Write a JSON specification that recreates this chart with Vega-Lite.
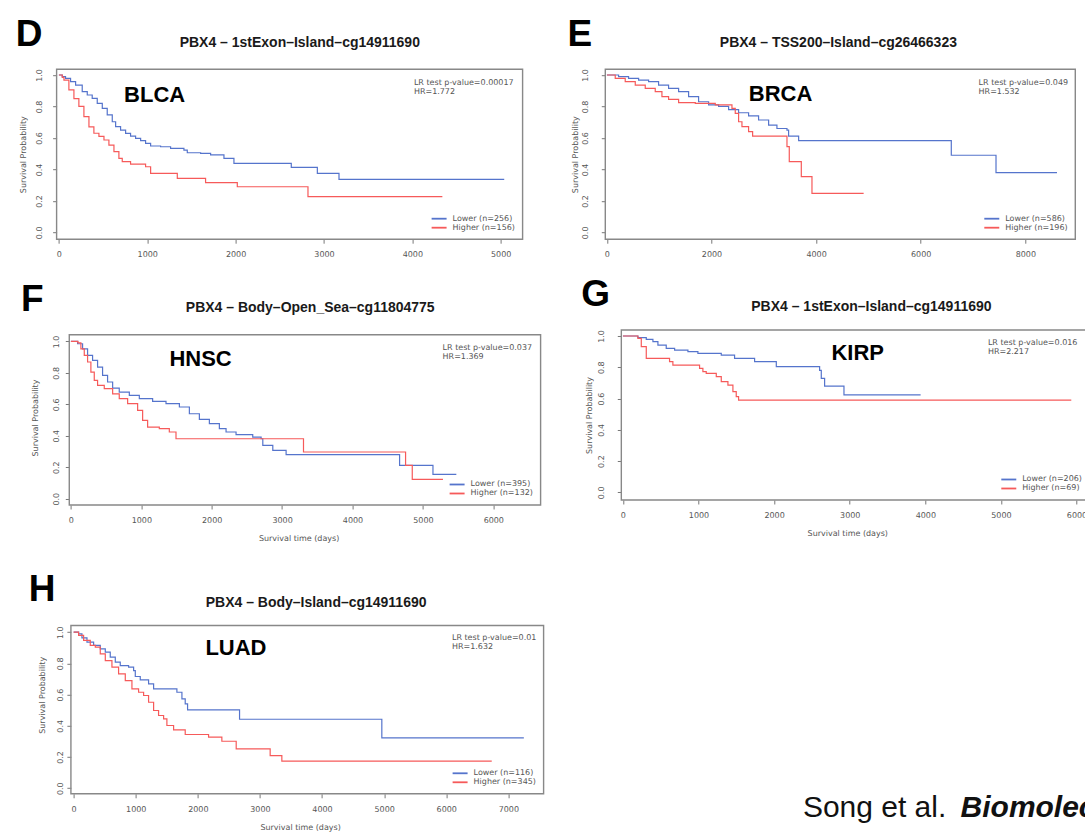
{
  "$schema": "https://vega.github.io/schema/vega-lite/v6.json",
  "background": "white",
  "padding": {"left": 14.6, "top": 15.2, "right": -11, "bottom": 0},
  "autosize": {"type": "pad"},
  "bounds": "flush",
  "columns": 2,
  "align": "each",
  "spacing": {"row": 90.8, "column": 61.7},
  "resolve": {"scale": {"color": "independent"}, "legend": {"color": "independent"}},
  "config": {
    "view": {"stroke": null},
    "axis": {"domain": false, "grid": false, "labelFont": "DejaVu Sans", "labelFontSize": 8, "labelColor": "#555555", "tickColor": "#777777", "tickSize": 4, "tickWidth": 1, "titleFont": "DejaVu Sans", "titleFontSize": 8, "titleFontWeight": "normal", "titleColor": "#555555"},
    "legend": {"orient": "bottom-right", "offset": 7, "padding": 0, "labelFont": "DejaVu Sans", "labelFontSize": 8, "labelColor": "#555555", "labelOffset": 9, "rowPadding": 0},
    "text": {"font": "DejaVu Sans"}
  },
  "datasets": {
    "D": [
      {"g": "Lower (n=256)", "t": 0, "s": 1}, {"g": "Lower (n=256)", "t": 38, "s": 0.99}, {"g": "Lower (n=256)", "t": 75, "s": 0.979}, {"g": "Lower (n=256)", "t": 132, "s": 0.958}, {"g": "Lower (n=256)", "t": 189, "s": 0.936}, {"g": "Lower (n=256)", "t": 264, "s": 0.894}, {"g": "Lower (n=256)", "t": 321, "s": 0.873}, {"g": "Lower (n=256)", "t": 377, "s": 0.852}, {"g": "Lower (n=256)", "t": 434, "s": 0.82}, {"g": "Lower (n=256)", "t": 491, "s": 0.788}, {"g": "Lower (n=256)", "t": 547, "s": 0.746}, {"g": "Lower (n=256)", "t": 604, "s": 0.703}, {"g": "Lower (n=256)", "t": 642, "s": 0.672}, {"g": "Lower (n=256)", "t": 698, "s": 0.65}, {"g": "Lower (n=256)", "t": 755, "s": 0.629}, {"g": "Lower (n=256)", "t": 811, "s": 0.612}, {"g": "Lower (n=256)", "t": 868, "s": 0.597}, {"g": "Lower (n=256)", "t": 925, "s": 0.583}, {"g": "Lower (n=256)", "t": 981, "s": 0.566}, {"g": "Lower (n=256)", "t": 1038, "s": 0.549}, {"g": "Lower (n=256)", "t": 1151, "s": 0.544}, {"g": "Lower (n=256)", "t": 1264, "s": 0.534}, {"g": "Lower (n=256)", "t": 1415, "s": 0.523}, {"g": "Lower (n=256)", "t": 1453, "s": 0.506}, {"g": "Lower (n=256)", "t": 1604, "s": 0.502}, {"g": "Lower (n=256)", "t": 1717, "s": 0.492}, {"g": "Lower (n=256)", "t": 1868, "s": 0.47}, {"g": "Lower (n=256)", "t": 1981, "s": 0.439}, {"g": "Lower (n=256)", "t": 2630, "s": 0.413}, {"g": "Lower (n=256)", "t": 2925, "s": 0.375}, {"g": "Lower (n=256)", "t": 3170, "s": 0.337}, {"g": "Lower (n=256)", "t": 5040, "s": 0.337},
      {"g": "Higher (n=156)", "t": 0, "s": 1}, {"g": "Higher (n=156)", "t": 38, "s": 0.985}, {"g": "Higher (n=156)", "t": 57, "s": 0.968}, {"g": "Higher (n=156)", "t": 113, "s": 0.905}, {"g": "Higher (n=156)", "t": 170, "s": 0.85}, {"g": "Higher (n=156)", "t": 226, "s": 0.8}, {"g": "Higher (n=156)", "t": 283, "s": 0.735}, {"g": "Higher (n=156)", "t": 340, "s": 0.67}, {"g": "Higher (n=156)", "t": 396, "s": 0.63}, {"g": "Higher (n=156)", "t": 453, "s": 0.61}, {"g": "Higher (n=156)", "t": 510, "s": 0.587}, {"g": "Higher (n=156)", "t": 566, "s": 0.555}, {"g": "Higher (n=156)", "t": 623, "s": 0.513}, {"g": "Higher (n=156)", "t": 679, "s": 0.47}, {"g": "Higher (n=156)", "t": 717, "s": 0.45}, {"g": "Higher (n=156)", "t": 811, "s": 0.434}, {"g": "Higher (n=156)", "t": 981, "s": 0.417}, {"g": "Higher (n=156)", "t": 1038, "s": 0.375}, {"g": "Higher (n=156)", "t": 1340, "s": 0.343}, {"g": "Higher (n=156)", "t": 1660, "s": 0.316}, {"g": "Higher (n=156)", "t": 2019, "s": 0.29}, {"g": "Higher (n=156)", "t": 2819, "s": 0.227}, {"g": "Higher (n=156)", "t": 4340, "s": 0.227}
    ],
    "E": [
      {"g": "Lower (n=586)", "t": 0, "s": 1}, {"g": "Lower (n=586)", "t": 223, "s": 0.99}, {"g": "Lower (n=586)", "t": 414, "s": 0.979}, {"g": "Lower (n=586)", "t": 606, "s": 0.968}, {"g": "Lower (n=586)", "t": 797, "s": 0.958}, {"g": "Lower (n=586)", "t": 988, "s": 0.936}, {"g": "Lower (n=586)", "t": 1179, "s": 0.915}, {"g": "Lower (n=586)", "t": 1371, "s": 0.894}, {"g": "Lower (n=586)", "t": 1562, "s": 0.862}, {"g": "Lower (n=586)", "t": 1753, "s": 0.83}, {"g": "Lower (n=586)", "t": 1944, "s": 0.81}, {"g": "Lower (n=586)", "t": 2136, "s": 0.8}, {"g": "Lower (n=586)", "t": 2327, "s": 0.78}, {"g": "Lower (n=586)", "t": 2518, "s": 0.76}, {"g": "Lower (n=586)", "t": 2709, "s": 0.74}, {"g": "Lower (n=586)", "t": 2900, "s": 0.714}, {"g": "Lower (n=586)", "t": 3092, "s": 0.682}, {"g": "Lower (n=586)", "t": 3251, "s": 0.66}, {"g": "Lower (n=586)", "t": 3443, "s": 0.65}, {"g": "Lower (n=586)", "t": 3474, "s": 0.612}, {"g": "Lower (n=586)", "t": 3666, "s": 0.583}, {"g": "Lower (n=586)", "t": 6585, "s": 0.49}, {"g": "Lower (n=586)", "t": 7440, "s": 0.38}, {"g": "Lower (n=586)", "t": 8606, "s": 0.38},
      {"g": "Higher (n=196)", "t": 0, "s": 1}, {"g": "Higher (n=196)", "t": 159, "s": 0.979}, {"g": "Higher (n=196)", "t": 350, "s": 0.958}, {"g": "Higher (n=196)", "t": 542, "s": 0.936}, {"g": "Higher (n=196)", "t": 733, "s": 0.915}, {"g": "Higher (n=196)", "t": 924, "s": 0.894}, {"g": "Higher (n=196)", "t": 1052, "s": 0.862}, {"g": "Higher (n=196)", "t": 1179, "s": 0.845}, {"g": "Higher (n=196)", "t": 1371, "s": 0.824}, {"g": "Higher (n=196)", "t": 1690, "s": 0.82}, {"g": "Higher (n=196)", "t": 2072, "s": 0.81}, {"g": "Higher (n=196)", "t": 2391, "s": 0.788}, {"g": "Higher (n=196)", "t": 2454, "s": 0.756}, {"g": "Higher (n=196)", "t": 2518, "s": 0.703}, {"g": "Higher (n=196)", "t": 2582, "s": 0.672}, {"g": "Higher (n=196)", "t": 2709, "s": 0.64}, {"g": "Higher (n=196)", "t": 2786, "s": 0.612}, {"g": "Higher (n=196)", "t": 3443, "s": 0.545}, {"g": "Higher (n=196)", "t": 3487, "s": 0.449}, {"g": "Higher (n=196)", "t": 3717, "s": 0.354}, {"g": "Higher (n=196)", "t": 3921, "s": 0.248}, {"g": "Higher (n=196)", "t": 4909, "s": 0.248}
    ],
    "F": [
      {"g": "Lower (n=395)", "t": 0, "s": 1}, {"g": "Lower (n=395)", "t": 95, "s": 0.985}, {"g": "Lower (n=395)", "t": 166, "s": 0.953}, {"g": "Lower (n=395)", "t": 237, "s": 0.911}, {"g": "Lower (n=395)", "t": 308, "s": 0.879}, {"g": "Lower (n=395)", "t": 379, "s": 0.837}, {"g": "Lower (n=395)", "t": 450, "s": 0.784}, {"g": "Lower (n=395)", "t": 521, "s": 0.742}, {"g": "Lower (n=395)", "t": 593, "s": 0.703}, {"g": "Lower (n=395)", "t": 687, "s": 0.678}, {"g": "Lower (n=395)", "t": 830, "s": 0.657}, {"g": "Lower (n=395)", "t": 972, "s": 0.636}, {"g": "Lower (n=395)", "t": 1161, "s": 0.619}, {"g": "Lower (n=395)", "t": 1351, "s": 0.604}, {"g": "Lower (n=395)", "t": 1541, "s": 0.583}, {"g": "Lower (n=395)", "t": 1683, "s": 0.54}, {"g": "Lower (n=395)", "t": 1825, "s": 0.504}, {"g": "Lower (n=395)", "t": 1967, "s": 0.477}, {"g": "Lower (n=395)", "t": 2109, "s": 0.445}, {"g": "Lower (n=395)", "t": 2204, "s": 0.424}, {"g": "Lower (n=395)", "t": 2346, "s": 0.407}, {"g": "Lower (n=395)", "t": 2583, "s": 0.392}, {"g": "Lower (n=395)", "t": 2702, "s": 0.381}, {"g": "Lower (n=395)", "t": 2726, "s": 0.339}, {"g": "Lower (n=395)", "t": 2868, "s": 0.307}, {"g": "Lower (n=395)", "t": 3057, "s": 0.28}, {"g": "Lower (n=395)", "t": 4669, "s": 0.212}, {"g": "Lower (n=395)", "t": 5143, "s": 0.155}, {"g": "Lower (n=395)", "t": 5475, "s": 0.155},
      {"g": "Higher (n=132)", "t": 0, "s": 1}, {"g": "Higher (n=132)", "t": 100, "s": 0.99}, {"g": "Higher (n=132)", "t": 142, "s": 0.953}, {"g": "Higher (n=132)", "t": 190, "s": 0.911}, {"g": "Higher (n=132)", "t": 237, "s": 0.869}, {"g": "Higher (n=132)", "t": 284, "s": 0.805}, {"g": "Higher (n=132)", "t": 332, "s": 0.752}, {"g": "Higher (n=132)", "t": 379, "s": 0.72}, {"g": "Higher (n=132)", "t": 474, "s": 0.7}, {"g": "Higher (n=132)", "t": 593, "s": 0.667}, {"g": "Higher (n=132)", "t": 687, "s": 0.636}, {"g": "Higher (n=132)", "t": 806, "s": 0.604}, {"g": "Higher (n=132)", "t": 948, "s": 0.561}, {"g": "Higher (n=132)", "t": 1019, "s": 0.498}, {"g": "Higher (n=132)", "t": 1090, "s": 0.455}, {"g": "Higher (n=132)", "t": 1256, "s": 0.445}, {"g": "Higher (n=132)", "t": 1398, "s": 0.424}, {"g": "Higher (n=132)", "t": 1493, "s": 0.381}, {"g": "Higher (n=132)", "t": 3304, "s": 0.297}, {"g": "Higher (n=132)", "t": 4754, "s": 0.212}, {"g": "Higher (n=132)", "t": 4849, "s": 0.123}, {"g": "Higher (n=132)", "t": 5285, "s": 0.123}
    ],
    "G": [
      {"g": "Lower (n=206)", "t": 0, "s": 1}, {"g": "Lower (n=206)", "t": 198, "s": 0.99}, {"g": "Lower (n=206)", "t": 309, "s": 0.979}, {"g": "Lower (n=206)", "t": 397, "s": 0.964}, {"g": "Lower (n=206)", "t": 463, "s": 0.942}, {"g": "Lower (n=206)", "t": 573, "s": 0.921}, {"g": "Lower (n=206)", "t": 684, "s": 0.91}, {"g": "Lower (n=206)", "t": 860, "s": 0.9}, {"g": "Lower (n=206)", "t": 992, "s": 0.889}, {"g": "Lower (n=206)", "t": 1301, "s": 0.878}, {"g": "Lower (n=206)", "t": 1477, "s": 0.857}, {"g": "Lower (n=206)", "t": 1742, "s": 0.836}, {"g": "Lower (n=206)", "t": 2029, "s": 0.804}, {"g": "Lower (n=206)", "t": 2602, "s": 0.78}, {"g": "Lower (n=206)", "t": 2624, "s": 0.729}, {"g": "Lower (n=206)", "t": 2668, "s": 0.68}, {"g": "Lower (n=206)", "t": 2924, "s": 0.623}, {"g": "Lower (n=206)", "t": 3938, "s": 0.623},
      {"g": "Higher (n=69)", "t": 0, "s": 1}, {"g": "Higher (n=69)", "t": 198, "s": 0.985}, {"g": "Higher (n=69)", "t": 243, "s": 0.932}, {"g": "Higher (n=69)", "t": 309, "s": 0.857}, {"g": "Higher (n=69)", "t": 617, "s": 0.836}, {"g": "Higher (n=69)", "t": 661, "s": 0.814}, {"g": "Higher (n=69)", "t": 1014, "s": 0.793}, {"g": "Higher (n=69)", "t": 1058, "s": 0.772}, {"g": "Higher (n=69)", "t": 1102, "s": 0.761}, {"g": "Higher (n=69)", "t": 1235, "s": 0.74}, {"g": "Higher (n=69)", "t": 1301, "s": 0.708}, {"g": "Higher (n=69)", "t": 1389, "s": 0.686}, {"g": "Higher (n=69)", "t": 1455, "s": 0.644}, {"g": "Higher (n=69)", "t": 1499, "s": 0.612}, {"g": "Higher (n=69)", "t": 1530, "s": 0.59}, {"g": "Higher (n=69)", "t": 5931, "s": 0.59}
    ],
    "H": [
      {"g": "Lower (n=116)", "t": 0, "s": 1}, {"g": "Lower (n=116)", "t": 80, "s": 0.989}, {"g": "Lower (n=116)", "t": 134, "s": 0.964}, {"g": "Lower (n=116)", "t": 215, "s": 0.936}, {"g": "Lower (n=116)", "t": 322, "s": 0.915}, {"g": "Lower (n=116)", "t": 429, "s": 0.893}, {"g": "Lower (n=116)", "t": 510, "s": 0.872}, {"g": "Lower (n=116)", "t": 590, "s": 0.84}, {"g": "Lower (n=116)", "t": 671, "s": 0.808}, {"g": "Lower (n=116)", "t": 751, "s": 0.786}, {"g": "Lower (n=116)", "t": 885, "s": 0.776}, {"g": "Lower (n=116)", "t": 966, "s": 0.754}, {"g": "Lower (n=116)", "t": 993, "s": 0.716}, {"g": "Lower (n=116)", "t": 1073, "s": 0.694}, {"g": "Lower (n=116)", "t": 1207, "s": 0.669}, {"g": "Lower (n=116)", "t": 1288, "s": 0.637}, {"g": "Lower (n=116)", "t": 1663, "s": 0.615}, {"g": "Lower (n=116)", "t": 1744, "s": 0.573}, {"g": "Lower (n=116)", "t": 1797, "s": 0.541}, {"g": "Lower (n=116)", "t": 1835, "s": 0.502}, {"g": "Lower (n=116)", "t": 2672, "s": 0.442}, {"g": "Lower (n=116)", "t": 4963, "s": 0.323}, {"g": "Lower (n=116)", "t": 7250, "s": 0.323},
      {"g": "Higher (n=345)", "t": 0, "s": 1}, {"g": "Higher (n=345)", "t": 80, "s": 0.979}, {"g": "Higher (n=345)", "t": 161, "s": 0.947}, {"g": "Higher (n=345)", "t": 268, "s": 0.915}, {"g": "Higher (n=345)", "t": 349, "s": 0.904}, {"g": "Higher (n=345)", "t": 429, "s": 0.861}, {"g": "Higher (n=345)", "t": 510, "s": 0.818}, {"g": "Higher (n=345)", "t": 617, "s": 0.776}, {"g": "Higher (n=345)", "t": 724, "s": 0.733}, {"g": "Higher (n=345)", "t": 832, "s": 0.69}, {"g": "Higher (n=345)", "t": 939, "s": 0.637}, {"g": "Higher (n=345)", "t": 1046, "s": 0.615}, {"g": "Higher (n=345)", "t": 1127, "s": 0.594}, {"g": "Higher (n=345)", "t": 1207, "s": 0.551}, {"g": "Higher (n=345)", "t": 1288, "s": 0.498}, {"g": "Higher (n=345)", "t": 1368, "s": 0.466}, {"g": "Higher (n=345)", "t": 1449, "s": 0.444}, {"g": "Higher (n=345)", "t": 1502, "s": 0.402}, {"g": "Higher (n=345)", "t": 1610, "s": 0.374}, {"g": "Higher (n=345)", "t": 1797, "s": 0.344}, {"g": "Higher (n=345)", "t": 2173, "s": 0.327}, {"g": "Higher (n=345)", "t": 2387, "s": 0.301}, {"g": "Higher (n=345)", "t": 2618, "s": 0.252}, {"g": "Higher (n=345)", "t": 3165, "s": 0.209}, {"g": "Higher (n=345)", "t": 3353, "s": 0.173}, {"g": "Higher (n=345)", "t": 6733, "s": 0.173}
    ]
  },
  "concat": [
    {
      "width": 466, "height": 170,
      "layer": [
        {"data": {"values": [{}]},
         "mark": {"type": "rect", "filled": false, "stroke": "#888888", "strokeWidth": 1.4},
         "encoding": {
           "x": {"datum": -26, "type": "quantitative", "axis": {"orient": "top", "title": "PBX4 – 1stExon–Island–cg14911690", "titleX": 242.7, "titleY": -22.5, "titleAngle": 0, "titleAlign": "center", "titleBaseline": "alphabetic", "titleFont": "Liberation Sans", "titleFontSize": 14, "titleFontWeight": "bold", "titleColor": "#1a1a1a", "labels": false, "ticks": false, "domain": false, "grid": false}},
           "x2": {"datum": 5248},
           "y": {"datum": -0.0432, "type": "quantitative", "axis": {"orient": "left", "title": "D", "titleX": -41.4, "titleY": -23.5, "titleAngle": 0, "titleAlign": "left", "titleBaseline": "alphabetic", "titleFont": "Liberation Sans", "titleFontSize": 37, "titleFontWeight": "bold", "titleColor": "#000000", "labels": false, "ticks": false, "domain": false, "grid": false}},
           "y2": {"datum": 1.0368}
         }},
        {"data": {"name": "D"},
         "mark": {"type": "line", "interpolate": "step-after", "strokeWidth": 1.2},
         "encoding": {
           "x": {"field": "t", "type": "quantitative", "scale": {"domain": [-26, 5248], "nice": false, "zero": false}, "axis": {"orient": "bottom", "values": [0, 1000, 2000, 3000, 4000, 5000], "format": "d", "labelFlush": false, "labelOverlap": false, "labelPadding": 7.6, "title": null}},
           "y": {"field": "s", "type": "quantitative", "scale": {"domain": [-0.0432, 1.0368], "nice": false, "zero": false}, "axis": {"orient": "left", "values": [0, 0.2, 0.4, 0.6, 0.8, 1], "format": ".1f", "labelAngle": 270, "labelAlign": "center", "labelBaseline": "bottom", "labelFlush": false, "labelOverlap": false, "labelPadding": 9.4, "title": "Survival Probability", "titlePadding": 7.5}},
           "color": {"field": "g", "type": "nominal", "scale": {"domain": ["Lower (n=256)", "Higher (n=156)"], "range": ["#5574cc", "#f65a5a"]}, "legend": {"title": null, "symbolType": "M-2.14,0H2.14", "symbolSize": 49, "symbolStrokeWidth": 1.8}}
         }},
        {"data": {"values": [{}]},
         "mark": {"type": "text", "text": "BLCA", "font": "Liberation Sans", "fontSize": 22, "fontWeight": "bold", "align": "left", "baseline": "alphabetic", "color": "#000000"},
         "encoding": {"x": {"datum": 738, "type": "quantitative", "axis": null}, "y": {"datum": 0.83, "type": "quantitative", "axis": null}}},
        {"data": {"values": [{}]},
         "mark": {"type": "text", "text": ["LR test p-value=0.00017", "HR=1.772"], "fontSize": 8, "lineHeight": 9, "align": "left", "baseline": "alphabetic", "color": "#555555"},
         "encoding": {"x": {"datum": 4018, "type": "quantitative", "axis": null}, "y": {"datum": 0.938, "type": "quantitative", "axis": null}}}
      ],
      "resolve": {"axis": {"x": "independent", "y": "independent"}}
    },
    {
      "width": 470, "height": 170,
      "layer": [
        {"data": {"values": [{}]},
         "mark": {"type": "rect", "filled": false, "stroke": "#888888", "strokeWidth": 1.4},
         "encoding": {
           "x": {"datum": -31, "type": "quantitative", "axis": {"orient": "top", "title": "PBX4 – TSS200–Island–cg26466323", "titleX": 232.6, "titleY": -22.5, "titleAngle": 0, "titleAlign": "center", "titleBaseline": "alphabetic", "titleFont": "Liberation Sans", "titleFontSize": 14, "titleFontWeight": "bold", "titleColor": "#1a1a1a", "labels": false, "ticks": false, "domain": false, "grid": false}},
           "x2": {"datum": 8956},
           "y": {"datum": -0.0432, "type": "quantitative", "axis": {"orient": "left", "title": "E", "titleX": -38.4, "titleY": -23.5, "titleAngle": 0, "titleAlign": "left", "titleBaseline": "alphabetic", "titleFont": "Liberation Sans", "titleFontSize": 37, "titleFontWeight": "bold", "titleColor": "#000000", "labels": false, "ticks": false, "domain": false, "grid": false}},
           "y2": {"datum": 1.0368}
         }},
        {"data": {"name": "E"},
         "mark": {"type": "line", "interpolate": "step-after", "strokeWidth": 1.2},
         "encoding": {
           "x": {"field": "t", "type": "quantitative", "scale": {"domain": [-31, 8956], "nice": false, "zero": false}, "axis": {"orient": "bottom", "values": [0, 2000, 4000, 6000, 8000], "format": "d", "labelFlush": false, "labelOverlap": false, "labelPadding": 7.6, "title": null}},
           "y": {"field": "s", "type": "quantitative", "scale": {"domain": [-0.0432, 1.0368], "nice": false, "zero": false}, "axis": {"orient": "left", "values": [0, 0.2, 0.4, 0.6, 0.8, 1], "format": ".1f", "labelAngle": 270, "labelAlign": "center", "labelBaseline": "bottom", "labelFlush": false, "labelOverlap": false, "labelPadding": 12, "title": "Survival Probability", "titlePadding": 2}},
           "color": {"field": "g", "type": "nominal", "scale": {"domain": ["Lower (n=586)", "Higher (n=196)"], "range": ["#5574cc", "#f65a5a"]}, "legend": {"title": null, "symbolType": "M-2.14,0H2.14", "symbolSize": 49, "symbolStrokeWidth": 1.8}}
         }},
        {"data": {"values": [{}]},
         "mark": {"type": "text", "text": "BRCA", "font": "Liberation Sans", "fontSize": 22, "fontWeight": "bold", "align": "left", "baseline": "alphabetic", "color": "#000000"},
         "encoding": {"x": {"datum": 2713, "type": "quantitative", "axis": null}, "y": {"datum": 0.835, "type": "quantitative", "axis": null}}},
        {"data": {"values": [{}]},
         "mark": {"type": "text", "text": ["LR test p-value=0.049", "HR=1.532"], "fontSize": 8, "lineHeight": 9, "align": "left", "baseline": "alphabetic", "color": "#555555"},
         "encoding": {"x": {"datum": 7107, "type": "quantitative", "axis": null}, "y": {"datum": 0.938, "type": "quantitative", "axis": null}}}
      ],
      "resolve": {"axis": {"x": "independent", "y": "independent"}}
    },
    {
      "width": 484, "height": 175,
      "layer": [
        {"data": {"values": [{}]},
         "mark": {"type": "rect", "filled": false, "stroke": "#888888", "strokeWidth": 1.4},
         "encoding": {
           "x": {"datum": -23, "type": "quantitative", "axis": {"orient": "top", "title": "PBX4 – Body–Open_Sea–cg11804775", "titleX": 253.1, "titleY": -18.3, "titleAngle": 0, "titleAlign": "center", "titleBaseline": "alphabetic", "titleFont": "Liberation Sans", "titleFontSize": 14, "titleFontWeight": "bold", "titleColor": "#1a1a1a", "labels": false, "ticks": false, "domain": false, "grid": false}},
           "x2": {"datum": 6672},
           "y": {"datum": -0.04, "type": "quantitative", "axis": {"orient": "left", "title": "F", "titleX": -36.2, "titleY": -19.3, "titleAngle": 0, "titleAlign": "left", "titleBaseline": "alphabetic", "titleFont": "Liberation Sans", "titleFontSize": 37, "titleFontWeight": "bold", "titleColor": "#000000", "labels": false, "ticks": false, "domain": false, "grid": false}},
           "y2": {"datum": 1.0426}
         }},
        {"data": {"name": "F"},
         "mark": {"type": "line", "interpolate": "step-after", "strokeWidth": 1.2},
         "encoding": {
           "x": {"field": "t", "type": "quantitative", "scale": {"domain": [-203, 6672], "nice": false, "zero": false}, "axis": {"orient": "bottom", "values": [0, 1000, 2000, 3000, 4000, 5000, 6000], "format": "d", "labelFlush": false, "labelOverlap": false, "labelPadding": 7.6, "title": "Survival time (days)", "titlePadding": 9.9}},
           "y": {"field": "s", "type": "quantitative", "scale": {"domain": [-0.04, 1.0725], "nice": false, "zero": false}, "axis": {"orient": "left", "offset": -12.7, "values": [0, 0.2, 0.4, 0.6, 0.8, 1], "format": ".1f", "labelAngle": 270, "labelAlign": "center", "labelBaseline": "bottom", "labelFlush": false, "labelOverlap": false, "labelPadding": 4.7, "title": "Survival Probability", "titlePadding": 12.7}},
           "color": {"field": "g", "type": "nominal", "scale": {"domain": ["Lower (n=395)", "Higher (n=132)"], "range": ["#5574cc", "#f65a5a"]}, "legend": {"title": null, "symbolType": "M-2.14,0H2.14", "symbolSize": 49, "symbolStrokeWidth": 1.8}}
         }},
        {"data": {"values": [{}]},
         "mark": {"type": "text", "text": "HNSC", "font": "Liberation Sans", "fontSize": 22, "fontWeight": "bold", "align": "left", "baseline": "alphabetic", "color": "#000000"},
         "encoding": {"x": {"datum": 1399, "type": "quantitative", "axis": null}, "y": {"datum": 0.844, "type": "quantitative", "axis": null}}},
        {"data": {"values": [{}]},
         "mark": {"type": "text", "text": ["LR test p-value=0.037", "HR=1.369"], "fontSize": 8, "lineHeight": 9, "align": "left", "baseline": "alphabetic", "color": "#555555"},
         "encoding": {"x": {"datum": 5280, "type": "quantitative", "axis": null}, "y": {"datum": 0.945, "type": "quantitative", "axis": null}}}
      ],
      "resolve": {"axis": {"x": "independent", "y": "independent"}}
    },
    {
      "width": 484, "height": 170,
      "layer": [
        {"data": {"values": [{}]},
         "mark": {"type": "rect", "filled": false, "stroke": "#888888", "strokeWidth": 1.4},
         "encoding": {
           "x": {"datum": -21, "type": "quantitative", "axis": {"orient": "top", "title": "PBX4 – 1stExon–Island–cg14911690", "titleX": 265.6, "titleY": -19.3, "titleAngle": 0, "titleAlign": "center", "titleBaseline": "alphabetic", "titleFont": "Liberation Sans", "titleFontSize": 14, "titleFontWeight": "bold", "titleColor": "#1a1a1a", "labels": false, "ticks": false, "domain": false, "grid": false}},
           "x2": {"datum": 6169},
           "y": {"datum": -0.0486, "type": "quantitative", "axis": {"orient": "left", "title": "G", "titleX": -24.5, "titleY": -24.8, "titleAngle": 0, "titleAlign": "left", "titleBaseline": "alphabetic", "titleFont": "Liberation Sans", "titleFontSize": 37, "titleFontWeight": "bold", "titleColor": "#000000", "labels": false, "ticks": false, "domain": false, "grid": false}},
           "y2": {"datum": 1.0384}
         }},
        {"data": {"name": "G"},
         "mark": {"type": "line", "interpolate": "step-after", "strokeWidth": 1.2},
         "encoding": {
           "x": {"field": "t", "type": "quantitative", "scale": {"domain": [-233, 6169], "nice": false, "zero": false}, "axis": {"orient": "bottom", "values": [0, 1000, 2000, 3000, 4000, 5000, 6000], "format": "d", "labelFlush": false, "labelOverlap": false, "labelPadding": 7.6, "title": "Survival time (days)", "titlePadding": 9.9}},
           "y": {"field": "s", "type": "quantitative", "scale": {"domain": [-0.0486, 1.0384], "nice": false, "zero": false}, "axis": {"orient": "left", "offset": -16, "values": [0, 0.2, 0.4, 0.6, 0.8, 1], "format": ".1f", "labelAngle": 270, "labelAlign": "center", "labelBaseline": "bottom", "labelFlush": false, "labelOverlap": false, "labelPadding": 11.8, "title": "Survival Probability", "titlePadding": 3.6}},
           "color": {"field": "g", "type": "nominal", "scale": {"domain": ["Lower (n=206)", "Higher (n=69)"], "range": ["#5574cc", "#f65a5a"]}, "legend": {"title": null, "symbolType": "M-2.14,0H2.14", "symbolSize": 49, "symbolStrokeWidth": 1.8}}
         }},
        {"data": {"values": [{}]},
         "mark": {"type": "text", "text": "KIRP", "font": "Liberation Sans", "fontSize": 22, "fontWeight": "bold", "align": "left", "baseline": "alphabetic", "color": "#000000"},
         "encoding": {"x": {"datum": 2758, "type": "quantitative", "axis": null}, "y": {"datum": 0.847, "type": "quantitative", "axis": null}}},
        {"data": {"values": [{}]},
         "mark": {"type": "text", "text": ["LR test p-value=0.016", "HR=2.217"], "fontSize": 8, "lineHeight": 9, "align": "left", "baseline": "alphabetic", "color": "#555555"},
         "encoding": {"x": {"datum": 4828, "type": "quantitative", "axis": null}, "y": {"datum": 0.944, "type": "quantitative", "axis": null}}}
      ],
      "resolve": {"axis": {"x": "independent", "y": "independent"}}
    },
    {
      "width": 487, "height": 198,
      "layer": [
        {"data": {"values": [{}]},
         "mark": {"type": "rect", "filled": false, "stroke": "#888888", "strokeWidth": 1.4},
         "encoding": {
           "x": {"datum": -43.5, "type": "quantitative", "axis": {"orient": "top", "title": "PBX4 – Body–Island–cg14911690", "titleX": 259, "titleY": 10.9, "titleAngle": 0, "titleAlign": "center", "titleBaseline": "alphabetic", "titleFont": "Liberation Sans", "titleFontSize": 14, "titleFontWeight": "bold", "titleColor": "#1a1a1a", "labels": false, "ticks": false, "domain": false, "grid": false}},
           "x2": {"datum": 7568},
           "y": {"datum": -0.0359, "type": "quantitative", "axis": {"orient": "left", "title": "H", "titleX": -28.4, "titleY": 4.9, "titleAngle": 0, "titleAlign": "left", "titleBaseline": "alphabetic", "titleFont": "Liberation Sans", "titleFontSize": 37, "titleFontWeight": "bold", "titleColor": "#000000", "labels": false, "ticks": false, "domain": false, "grid": false}},
           "y2": {"datum": 1.0429}
         }},
        {"data": {"name": "H"},
         "mark": {"type": "line", "interpolate": "step-after", "strokeWidth": 1.2},
         "encoding": {
           "x": {"field": "t", "type": "quantitative", "scale": {"domain": [-274, 7568], "nice": false, "zero": false}, "axis": {"orient": "bottom", "values": [0, 1000, 2000, 3000, 4000, 5000, 6000, 7000], "format": "d", "labelFlush": false, "labelOverlap": false, "labelPadding": 7.6, "title": "Survival time (days)", "titlePadding": 9.9}},
           "y": {"field": "s", "type": "quantitative", "scale": {"domain": [-0.0359, 1.2333], "nice": false, "zero": false}, "axis": {"orient": "left", "offset": -14.3, "values": [0, 0.2, 0.4, 0.6, 0.8, 1], "format": ".1f", "labelAngle": 270, "labelAlign": "center", "labelBaseline": "bottom", "labelFlush": false, "labelOverlap": false, "labelPadding": 2.8, "title": "Survival Probability", "titlePadding": 9.6}},
           "color": {"field": "g", "type": "nominal", "scale": {"domain": ["Lower (n=116)", "Higher (n=345)"], "range": ["#5574cc", "#f65a5a"]}, "legend": {"title": null, "symbolType": "M-2.14,0H2.14", "symbolSize": 49, "symbolStrokeWidth": 1.8}}
         }},
        {"data": {"values": [{}]},
         "mark": {"type": "text", "text": "LUAD", "font": "Liberation Sans", "fontSize": 22, "fontWeight": "bold", "align": "left", "baseline": "alphabetic", "color": "#000000"},
         "encoding": {"x": {"datum": 2122, "type": "quantitative", "axis": {"orient": "top", "title": "Song et al.", "titleX": 745.8, "titleY": 220.9, "titleAngle": 0, "titleAlign": "left", "titleBaseline": "alphabetic", "titleFont": "Liberation Sans", "titleFontSize": 30, "titleFontWeight": "normal", "titleColor": "#111111", "labels": false, "ticks": false, "domain": false, "grid": false}}, "y": {"datum": 0.855, "type": "quantitative", "axis": null}}},
        {"data": {"values": [{}]},
         "mark": {"type": "text", "text": ["LR test p-value=0.01", "HR=1.632"], "fontSize": 8, "lineHeight": 9, "align": "left", "baseline": "alphabetic", "color": "#555555"},
         "encoding": {"x": {"datum": 6092, "type": "quantitative", "axis": {"orient": "top", "title": "Biomolec", "titleX": 903.5, "titleY": 220.9, "titleAngle": 0, "titleAlign": "left", "titleBaseline": "alphabetic", "titleFont": "Liberation Sans", "titleFontSize": 30, "titleFontWeight": "bold", "titleFontStyle": "italic", "titleColor": "#111111", "labels": false, "ticks": false, "domain": false, "grid": false}}, "y": {"datum": 0.949, "type": "quantitative", "axis": null}}}
      ],
      "resolve": {"axis": {"x": "independent", "y": "independent"}}
    }
  ]
}
